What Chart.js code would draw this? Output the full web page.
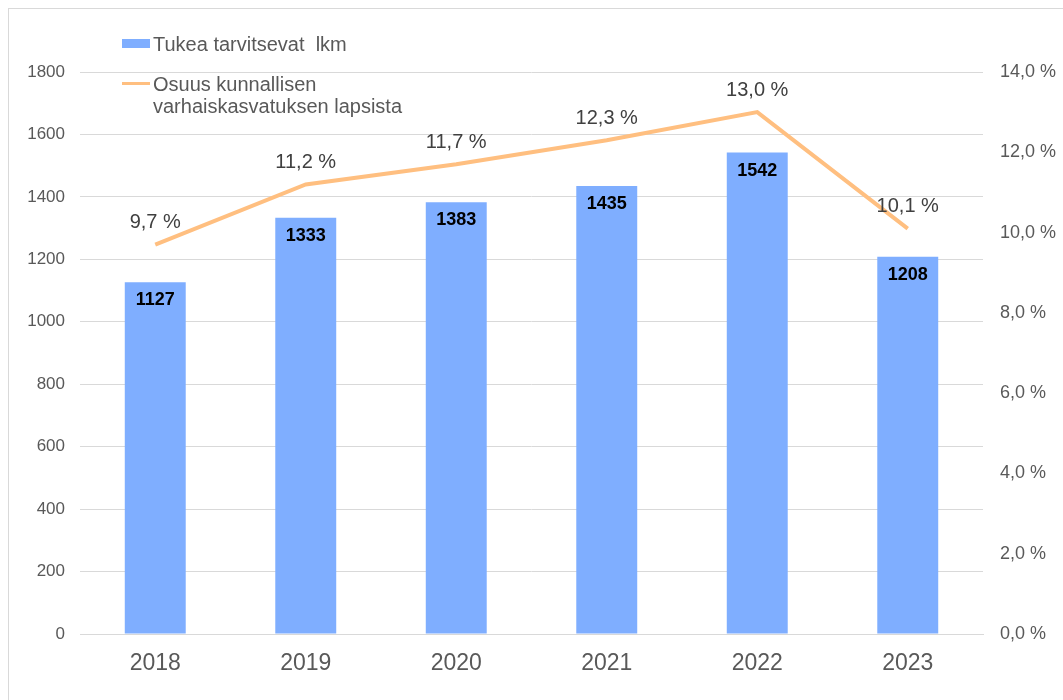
<!DOCTYPE html>
<html>
<head>
<meta charset="utf-8">
<script src="https://cdn.jsdelivr.net/npm/chart.js@4/dist/chart.umd.min.js"></script>
<style>
  body { margin: 0; background: #fff; font-family: "Liberation Sans", Arial, sans-serif; }
  #frame { position: absolute; left: 8px; top: 8px; width: 1080px; height: 720px; border: 1px solid #d9d9d9; }
  #wrap { position: absolute; left: 0; top: 0; width: 1063px; height: 700px; }
  #legend { position: absolute; left: 122px; top: 33px; color: #595959; font-size: 20px; line-height: 22px; }
  .item { position: relative; padding-left: 31px; white-space: pre; margin-bottom: 18px; }
  .box { position: absolute; left: 0; top: 6px; width: 28px; height: 9px; }
  .ln { position: absolute; left: 0; top: 9px; width: 28px; height: 3px; }
</style>
</head>
<body>
<div id="frame"></div>
<div id="wrap"><canvas id="myChart"></canvas></div>
<div id="legend"></div>
<script>
  var years = ['2018', '2019', '2020', '2021', '2022', '2023'];
  var tukea = [1127, 1333, 1383, 1435, 1542, 1208];
  var osuus = [9.7, 11.2, 11.7, 12.3, 13.0, 10.1];
  var barLabel = 'Tukea tarvitsevat  lkm';
  var lineLabel = 'Osuus kunnallisen\nvarhaiskasvatuksen lapsista';

  var barColor = 'rgb(127, 174, 255)';
  var lineColor = 'rgb(255, 191, 128)';
  var fontFam = '"Liberation Sans", Arial';

  function pct(v) {
    return v.toFixed(1).replace('.', ',') + ' %';
  }

  // value labels on bars and line points
  const valueLabels = {
    id: 'valueLabels',
    afterDatasetsDraw(chart) {
      const ctx = chart.ctx;
      ctx.save();
      ctx.textAlign = 'center';
      ctx.textBaseline = 'middle';
      chart.getDatasetMeta(0).data.forEach(function (bar, i) {
        ctx.font = 'bold 18px ' + fontFam;
        ctx.fillStyle = '#000';
        ctx.fillText(tukea[i], bar.x, bar.y + 18);
      });
      chart.getDatasetMeta(1).data.forEach(function (pt, i) {
        ctx.font = '20px ' + fontFam;
        ctx.fillStyle = '#404040';
        ctx.fillText(pct(osuus[i]), pt.x, pt.y - 22);
      });
      ctx.restore();
    }
  };

  function drawChart() {
    const data = {
      labels: years,
      datasets: [{
        type: 'bar',
        label: barLabel,
        data: tukea,
        backgroundColor: barColor,
        yAxisID: 'y',
        categoryPercentage: 1,
        barPercentage: 0.405,
        order: 1
      }, {
        type: 'line',
        label: lineLabel,
        data: osuus,
        borderColor: lineColor,
        borderWidth: 4,
        pointRadius: 0,
        tension: 0,
        yAxisID: 'y1',
        order: 0
      }]
    };

    const config = {
      data: data,
      plugins: [valueLabels],
      options: {
        responsive: false,
        animation: false,
        layout: { padding: { top: 72, left: 0, right: 0, bottom: 0 } },
        plugins: { legend: { display: false }, tooltip: { enabled: false } },
        scales: {
          x: {
            grid: { display: false, drawTicks: false },
            border: { color: '#d9d9d9' },
            ticks: { color: '#595959', font: { size: 23, family: fontFam }, padding: 16 },
            afterFit: function (s) { s.height = 66; }
          },
          y: {
            position: 'left',
            min: 0, max: 1800,
            ticks: {
              stepSize: 200, color: '#595959', padding: 15,
              font: { size: 17, family: fontFam },
              callback: function (v) { return String(v); }
            },
            grid: { color: '#d9d9d9', drawTicks: false },
            border: { display: false },
            afterFit: function (s) { s.width = 80; }
          },
          y1: {
            position: 'right',
            min: 0, max: 14,
            ticks: {
              stepSize: 2, color: '#595959', padding: 17,
              font: { size: 18, family: fontFam },
              callback: function (v) { return pct(v); }
            },
            grid: { drawOnChartArea: false, drawTicks: false },
            border: { display: false },
            afterFit: function (s) { s.width = 80; }
          }
        }
      }
    };

    const canvas = document.getElementById('myChart');
    canvas.width = 1063;
    canvas.height = 700;
    const myChart = new Chart(canvas, config);

    // html legend from dataset labels
    var leg = document.getElementById('legend');
    leg.innerHTML =
      '<div class="item"><span class="box" style="background:' + barColor + '"></span>' + barLabel + '</div>' +
      '<div class="item"><span class="ln" style="background:' + lineColor + '"></span>' + lineLabel + '</div>';
  }

  drawChart();
</script>
</body>
</html>
